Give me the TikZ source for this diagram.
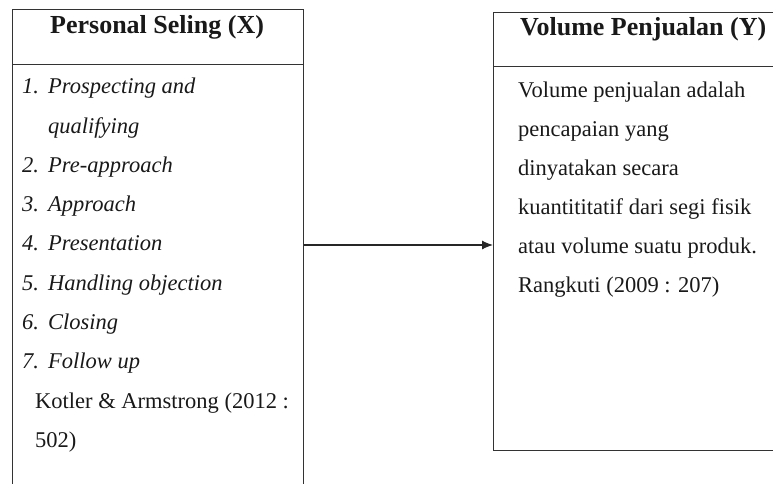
\documentclass[tikz,border=0pt]{standalone}
\usepackage{fontspec}
\setmainfont{Liberation Serif}
\usetikzlibrary{arrows.meta}
\begin{document}
\begin{tikzpicture}[x=1pt,y=-1pt,
  boxline/.style={draw=black!80, line width=1pt},
  body/.style={anchor=base west, inner sep=0pt, font=\fontsize{22.5}{26}\selectfont, text=black!90},
  item/.style={body, font=\fontsize{22.5}{26}\selectfont\itshape},
  head/.style={anchor=base west, inner sep=0pt, font=\fontsize{26}{30}\selectfont\bfseries, text=black!90},
  arr/.style={draw=black!85, line width=1.1pt, -{Latex[length=11pt,width=9pt]}}]
\useasboundingbox (0,0) rectangle (773,483);
% boxes
\node[boxline, anchor=north west, minimum width=291pt, minimum height=490pt, inner sep=0pt] (X) at (12,9) {};
\node[boxline, anchor=north west, minimum width=300pt, minimum height=438pt, inner sep=0pt] (Y) at (493,12) {};
\draw[boxline] (X.west |- 0,64) coordinate (xl) -- (X.east |- 0,64) coordinate (xr);
\draw[boxline] (Y.west |- 0,66) coordinate (yl) -- (Y.east |- 0,66) coordinate (yr);
% headings
\node[head] (hx) at (50,33) {Personal Seling (X)};
\node[head] (hy) at (520,35) {Volume Penjualan (Y)};
% left list
\node[item] (n1) at (22,93) {1.}; \node[item] (t1) at (48,93) {Prospecting and};
\node[item] (t1b) at (48,133) {qualifying};
\node[item] (n2) at (22,172) {2.}; \node[item] (t2) at (48,172) {Pre-approach};
\node[item] (n3) at (22,211) {3.}; \node[item] (t3) at (48,211) {Approach};
\node[item] (n4) at (22,250) {4.}; \node[item] (t4) at (48,250) {Presentation};
\node[item] (n5) at (22,290) {5.}; \node[item] (t5) at (48,290) {Handling objection};
\node[item] (n6) at (22,329) {6.}; \node[item] (t6) at (48,329) {Closing};
\node[item] (n7) at (22,368) {7.}; \node[item] (t7) at (48,368) {Follow up};
\node[body] (k1) at (35,408) {Kotler \& Armstrong (2012 :};
\node[body] (k2) at (35,447) {502)};
% right text
\node[body] (r1) at (518,97) {Volume penjualan adalah};
\node[body] (r2) at (518,136) {pencapaian yang};
\node[body] (r3) at (518,175) {dinyatakan secara};
\node[body] (r4) at (518,214) {kuantititatif dari segi fisik};
\node[body] (r5) at (518,253) {atau volume suatu produk.};
\node[body] (r6) at (518,292) {Rangkuti (2009 : 207)};
% arrow
\coordinate (ay) at (0,245);
\draw[arr] (X.east |- ay) -- (Y.west |- ay);
\end{tikzpicture}
\end{document}
